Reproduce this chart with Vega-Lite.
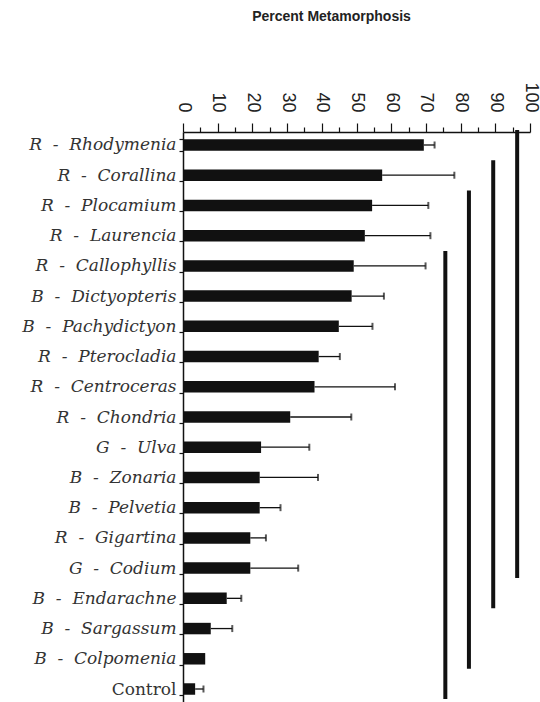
{
  "$schema": "https://vega.github.io/schema/vega-lite/v6.json",
  "width": 347,
  "height": 570,
  "autosize": {"type": "none"},
  "padding": {"left": 183, "top": 132, "right": 10, "bottom": 0},
  "background": "white",
  "title": {
    "text": "Percent Metamorphosis",
    "anchor": "middle",
    "dx": -25,
    "offset": 58,
    "font": "Liberation Sans",
    "fontSize": 14,
    "fontWeight": "bold",
    "color": "#222"
  },
  "config": {
    "view": {"stroke": null},
    "axis": {"domainColor": "#111", "tickColor": "#111", "labelColor": "#222", "grid": false}
  },
  "datasets": {
    "algae": [
      {"label": "R \u00a0-\u00a0 Rhodymenia", "mean": 69.4, "upper": 72.5},
      {"label": "R \u00a0-\u00a0 Corallina", "mean": 57.4, "upper": 78.2},
      {"label": "R \u00a0-\u00a0 Plocamium", "mean": 54.5, "upper": 70.7},
      {"label": "R \u00a0-\u00a0 Laurencia", "mean": 52.4, "upper": 71.3},
      {"label": "R \u00a0-\u00a0 Callophyllis", "mean": 49.2, "upper": 69.9},
      {"label": "B \u00a0-\u00a0 Dictyopteris", "mean": 48.6, "upper": 57.9},
      {"label": "B \u00a0-\u00a0 Pachydictyon", "mean": 44.9, "upper": 54.6},
      {"label": "R \u00a0-\u00a0 Pterocladia", "mean": 39.1, "upper": 45.2},
      {"label": "R \u00a0-\u00a0 Centroceras", "mean": 37.9, "upper": 61.1},
      {"label": "R \u00a0-\u00a0 Chondria", "mean": 30.9, "upper": 48.5},
      {"label": "G \u00a0-\u00a0 Ulva", "mean": 22.5, "upper": 36.4},
      {"label": "B \u00a0-\u00a0 Zonaria", "mean": 22.1, "upper": 38.9},
      {"label": "B \u00a0-\u00a0 Pelvetia", "mean": 22.1, "upper": 28.1},
      {"label": "R \u00a0-\u00a0 Gigartina", "mean": 19.4, "upper": 23.9},
      {"label": "G \u00a0-\u00a0 Codium", "mean": 19.4, "upper": 33.2},
      {"label": "B \u00a0-\u00a0 Endarachne", "mean": 12.6, "upper": 16.8},
      {"label": "B \u00a0-\u00a0 Sargassum", "mean": 8.0, "upper": 14.2},
      {"label": "B \u00a0-\u00a0 Colpomenia", "mean": 6.4, "upper": null},
      {"label": "Control", "mean": 3.5, "upper": 5.9}
    ],
    "groups": [
      {"x": 96.3, "from": "R \u00a0-\u00a0 Rhodymenia", "to": "G \u00a0-\u00a0 Codium"},
      {"x": 89.4, "from": "R \u00a0-\u00a0 Corallina", "to": "B \u00a0-\u00a0 Endarachne"},
      {"x": 82.4, "from": "R \u00a0-\u00a0 Plocamium", "to": "B \u00a0-\u00a0 Colpomenia"},
      {"x": 75.6, "from": "R \u00a0-\u00a0 Callophyllis", "to": "Control"}
    ]
  },
  "resolve": {"axis": {"x": "independent"}},
  "layer": [
    {
      "data": {"name": "algae"},
      "mark": {"type": "bar", "color": "#111"},
      "encoding": {
        "y": {
          "field": "label", "type": "nominal",
          "scale": {
            "domain": ["R \u00a0-\u00a0 Rhodymenia", "R \u00a0-\u00a0 Corallina", "R \u00a0-\u00a0 Plocamium", "R \u00a0-\u00a0 Laurencia", "R \u00a0-\u00a0 Callophyllis", "B \u00a0-\u00a0 Dictyopteris", "B \u00a0-\u00a0 Pachydictyon", "R \u00a0-\u00a0 Pterocladia", "R \u00a0-\u00a0 Centroceras", "R \u00a0-\u00a0 Chondria", "G \u00a0-\u00a0 Ulva", "B \u00a0-\u00a0 Zonaria", "B \u00a0-\u00a0 Pelvetia", "R \u00a0-\u00a0 Gigartina", "G \u00a0-\u00a0 Codium", "B \u00a0-\u00a0 Endarachne", "B \u00a0-\u00a0 Sargassum", "B \u00a0-\u00a0 Colpomenia", "Control"],
            "paddingInner": 0.62, "paddingOuter": 0.24
          },
          "axis": {
            "title": null,
            "orient": "left",
            "domainWidth": 1.5,
            "tickBand": "extent",
            "tickSize": 4,
            "tickWidth": 1.2,
            "labelPadding": 3,
            "labelFont": "DejaVu Serif",
            "labelFontSize": 17,
            "labelColor": "#333",
            "labelFontStyle": {"condition": {"test": "datum.value == 'Control'", "value": "normal"}, "value": "italic"}
          }
        },
        "x": {
          "field": "mean", "type": "quantitative",
          "scale": {"domain": [0, 100], "nice": false},
          "axis": {
            "title": null,
            "orient": "top",
            "values": [0, 10, 20, 30, 40, 50, 60, 70, 80, 90, 100],
            "labelOverlap": false,
            "labelBound": false,
            "domainWidth": 1.5,
            "tickWidth": 1.2,
            "tickSize": 9,
            "labelAngle": 90,
            "labelAlign": "right",
            "labelBaseline": "middle",
            "labelPadding": 11,
            "labelFont": "Liberation Sans",
            "labelFontSize": 18
          }
        }
      }
    },
    {
      "data": {"name": "algae"},
      "transform": [{"filter": "datum.upper != null"}],
      "mark": {"type": "rule", "color": "#111", "strokeWidth": 1.3},
      "encoding": {
        "y": {"field": "label", "type": "nominal"},
        "x": {
          "field": "mean", "type": "quantitative",
          "axis": {
            "title": null,
            "orient": "top",
            "values": [5, 15, 25, 35, 45, 55, 65, 75, 85, 95],
            "labels": false,
            "domain": false,
            "tickWidth": 1.2,
            "tickSize": 5,
            "offset": 0
          }
        },
        "x2": {"field": "upper"}
      }
    },
    {
      "data": {"name": "algae"},
      "transform": [{"filter": "datum.upper != null"}],
      "mark": {"type": "tick", "color": "#111", "size": 7, "thickness": 2, "orient": "vertical"},
      "encoding": {
        "y": {"field": "label", "type": "nominal"},
        "x": {"field": "upper", "type": "quantitative", "axis": null}
      }
    },
    {
      "data": {"name": "groups"},
      "mark": {"type": "rule", "color": "#111", "strokeWidth": 4, "yOffset": -15, "y2Offset": 10},
      "encoding": {
        "y": {"field": "from", "type": "nominal"},
        "y2": {"field": "to"},
        "x": {"field": "x", "type": "quantitative", "axis": null}
      }
    }
  ]
}
